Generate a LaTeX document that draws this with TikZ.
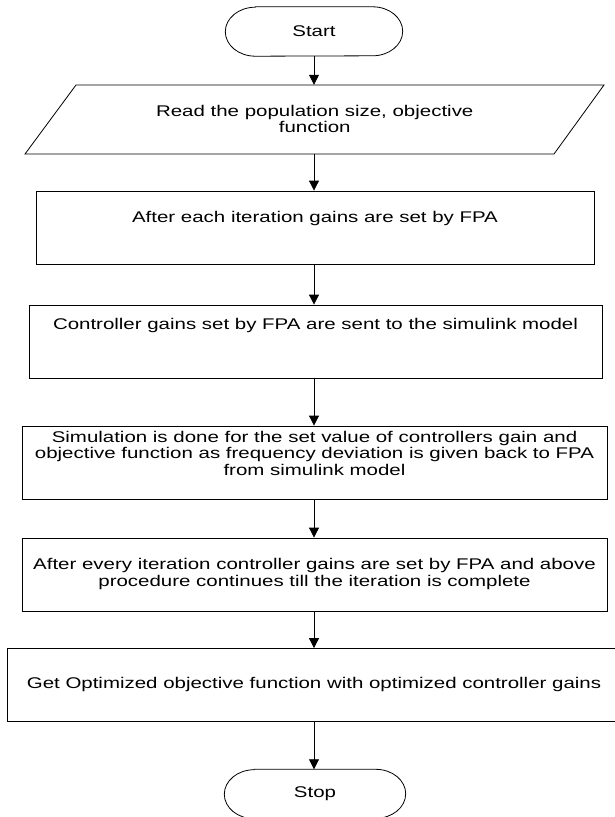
\documentclass[tikz,border=0pt]{standalone}
\usepackage{fontspec}
\setmainfont[FakeStretch=1.32]{Liberation Sans}
\usetikzlibrary{arrows.meta}
\begin{document}
\begin{tikzpicture}[x=1pt,y=-1pt,
  font=\fontsize{15.5}{16.5}\selectfont,
  procbox/.style={draw=black, line width=0.8pt, rectangle, inner sep=0pt, minimum height=73pt},
  term/.style={rectangle, minimum width=177pt, minimum height=49pt, inner sep=0pt},
  termline/.style={draw=black, line width=0.8pt},
  lbl/.style={align=center, inner sep=0pt},
  flow/.style={draw=black, line width=0.8pt, -{Triangle[width=10pt,length=10pt]}}
]
\useasboundingbox (0,0) rectangle (615,817);
% start
\node[term] (start) at (314,31.5) {Start};
\draw[termline] ([xshift=30pt]start.north west) -- ([xshift=-30pt]start.north east)
  arc[start angle=90, end angle=-90, x radius=30pt, y radius=24.5pt]
  -- ([xshift=30pt]start.south west)
  arc[start angle=270, end angle=90, x radius=30pt, y radius=24.5pt] -- cycle;
% input parallelogram
\draw[line width=0.8pt] (76,85) -- (604,85) -- (554,154) -- (25,154) -- cycle;
\node[minimum width=400pt, minimum height=69pt, inner sep=0pt] (read) at (314,119.5) {};
\node[lbl] (readtxt) at (314.75,119) {Read the population size, objective\\function};
% boxes
\node[procbox, minimum width=558pt] (b1) at (315,227.5) {};
\node[lbl] (t1) at (315,218) {After each iteration gains are set by FPA};
\node[procbox, minimum width=573pt] (b2) at (315.5,341.5) {};
\node[lbl] (t2) at (315.5,325) {Controller gains set by FPA are sent to the simulink model};
\node[procbox, minimum width=585pt] (b3) at (314.5,462.5) {};
\node[lbl] (t3) at (314.5,453) {Simulation is done for the set value of controllers gain and\\objective function as frequency deviation is given back to FPA\\from simulink model};
\node[procbox, minimum width=585pt] (b4) at (314.5,574.5) {};
\node[lbl] (t4) at (314.5,574) {After every iteration controller gains are set by FPA and above\\procedure continues till the iteration is complete};
\node[procbox, minimum width=614pt] (b5) at (314,685) {};
\node[lbl] (t5) at (314,684) {Get Optimized objective function with optimized controller gains};
% stop
\node[term, minimum width=181pt] (stop) at (315,794) {Stop};
\draw[termline] ([xshift=30pt]stop.north west) -- ([xshift=-30pt]stop.north east)
  arc[start angle=90, end angle=-90, x radius=30pt, y radius=24.5pt]
  -- ([xshift=30pt]stop.south west)
  arc[start angle=270, end angle=90, x radius=30pt, y radius=24.5pt] -- cycle;
% connectors
\draw[flow] (start.south) -- (read.north);
\draw[flow] (read.south) -- (b1.north -| read.south);
\draw[flow] (b1.south -| read.south) -- (b2.north -| read.south);
\draw[flow] (b2.south -| read.south) -- (b3.north -| read.south);
\draw[flow] (b3.south -| read.south) -- (b4.north -| read.south);
\draw[flow] (b4.south -| read.south) -- (b5.north -| read.south);
\draw[flow] (b5.south -| read.south) -- (stop.north -| read.south);
\end{tikzpicture}
\end{document}
